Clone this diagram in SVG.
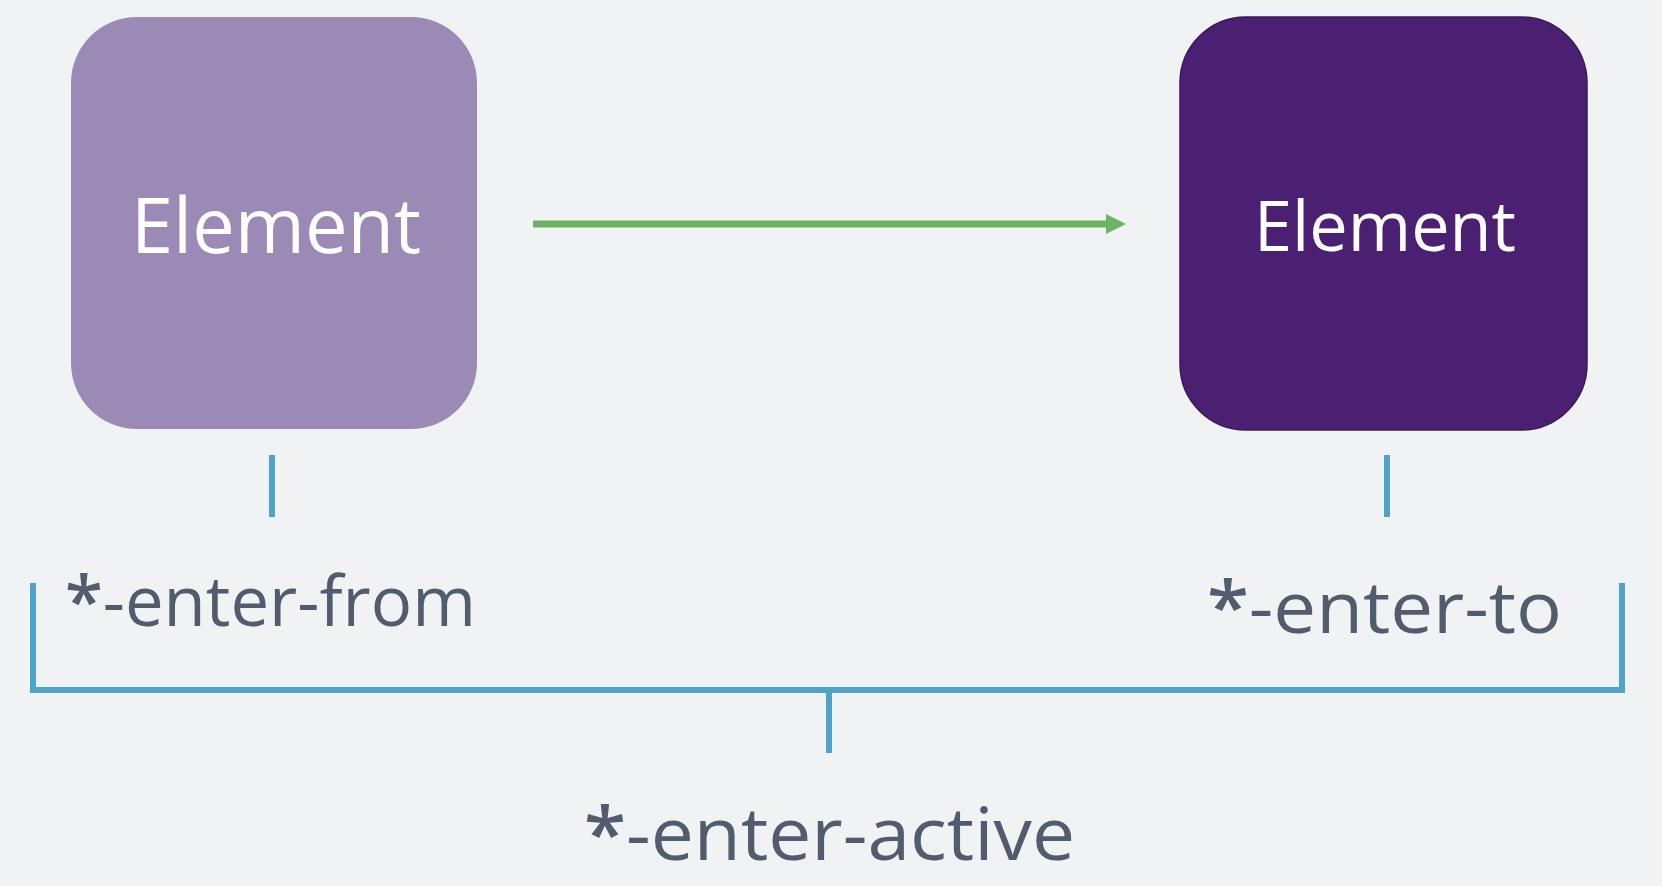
<svg xmlns="http://www.w3.org/2000/svg" width="1662" height="886" viewBox="0 0 1662 886">
  <style>
    .node-label { font-family: "Open Sans", "Liberation Sans", sans-serif; fill: #ffffff; }
    .state-label { font-family: "Open Sans", "Liberation Sans", sans-serif; fill: #535c6e; }
    .star { font-weight: 600; }
    .bracket { stroke: #4fa3c9; stroke-width: 6; fill: none; }
    .flow { stroke: #6bb562; stroke-width: 7; fill: none; }
  </style>
  <defs>
    <marker id="arrowhead" markerUnits="userSpaceOnUse" markerWidth="22" markerHeight="22" refX="2" refY="11" orient="auto">
      <polygon points="0,1 20,11 0,21" fill="#6bb562"/>
    </marker>
  </defs>
  <rect width="1662" height="886" fill="#f0f2f4"/>

  <g id="node-from">
    <rect x="71" y="17" width="406" height="412" rx="66" ry="66" fill="#9b8ab6"/>
    <text class="node-label" x="131" y="253" font-size="76" textLength="290" lengthAdjust="spacingAndGlyphs">Element</text>
  </g>

  <g id="node-to">
    <rect x="1180" y="17" width="407" height="413" rx="66" ry="66" fill="#4b2073" stroke="#3a1858" stroke-width="1.5"/>
    <text class="node-label" x="1254" y="251" font-size="70" textLength="262" lengthAdjust="spacingAndGlyphs">Element</text>
  </g>

  <g id="connectors">
    <line class="flow" x1="533" y1="224" x2="1108" y2="224" marker-end="url(#arrowhead)"/>
    <line class="bracket" x1="272" y1="455" x2="272" y2="517"/>
    <line class="bracket" x1="1387" y1="455" x2="1387" y2="517"/>
    <path class="bracket" d="M33,583 V690 H1622 V583"/>
    <line class="bracket" x1="829" y1="690" x2="829" y2="753"/>
  </g>

  <g id="label-from">
    <text class="state-label" x="65" y="626" font-size="70" textLength="411" lengthAdjust="spacingAndGlyphs"><tspan class="star">*</tspan>-enter-from</text>
  </g>
  <g id="label-to">
    <text class="state-label" x="1207" y="633" font-size="72" textLength="355" lengthAdjust="spacingAndGlyphs"><tspan class="star">*</tspan>-enter-to</text>
  </g>
  <g id="label-active">
    <text class="state-label" x="584" y="860" font-size="74" textLength="491" lengthAdjust="spacingAndGlyphs"><tspan class="star">*</tspan>-enter-active</text>
  </g>
</svg>
